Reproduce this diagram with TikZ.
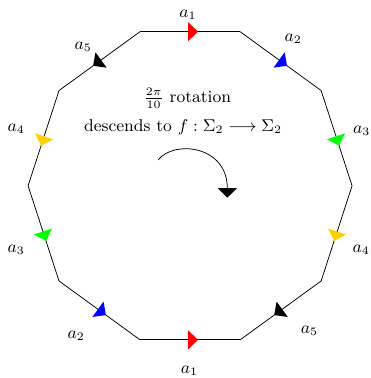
\documentclass[tikz,border=0pt]{standalone}
\usepackage{amsmath}
\usetikzlibrary{arrows.meta,decorations.markings}
\definecolor{tipyellow}{RGB}{255,208,0}

\begin{document}
\begin{tikzpicture}[
  every node/.style={font=\small},
  side/.style={line width=0.4pt},
  midtip/.style={side, postaction={decorate}, decoration={markings,
    mark=at position 0.5 with {\fill[#1] (4.2pt,0) -- (-1pt,5pt) -- (-1pt,-5pt) -- cycle;}}},
  rot/.style={-{Triangle[length=5pt,width=10pt]}}
]
\useasboundingbox (-3.52,-3.56) rectangle (3.35,3.44);

% decagon corners
\foreach \i in {0,...,9}
  \coordinate (v\i) at (\i*36:3);

% sides, opposite sides glued by translation
\draw[midtip=red] (v3) -- (v2);
\draw[midtip=blue] (v2) -- (v1);
\draw[midtip=green] (v1) -- (v0);
\draw[midtip=tipyellow] (v0) -- (v9);
\draw[midtip=black] (v9) -- (v8);
\draw[midtip=red] (v7) -- (v8);
\draw[midtip=blue] (v6) -- (v7);
\draw[midtip=green] (v5) -- (v6);
\draw[midtip=tipyellow] (v4) -- (v5);
\draw[midtip=black] (v3) -- (v4);

\node (a1t) at (-0.04,3.17) {$a_1$};
\node (a2t) at (1.91,2.72) {$a_2$};
\node (a3t) at (3.18,1.02) {$a_3$};
\node (a4t) at (3.17,-1.19) {$a_4$};
\node (a5t) at (2.21,-2.69) {$a_5$};
\node (a1b) at (-0.01,-3.42) {$a_1$};
\node (a2b) at (-2.11,-2.78) {$a_2$};
\node (a3b) at (-3.22,-1.19) {$a_3$};
\node (a4b) at (-3.22,1.05) {$a_4$};
\node (a5b) at (-1.98,2.58) {$a_5$};

\node (rottxt) at (-0.05,1.62) {$\frac{2\pi}{10}$ rotation};
\node (desc) at (-0.13,1.09) {descends to $f:\Sigma_2\longrightarrow\Sigma_2$};

\coordinate (rs) at (-0.59,0.48);
\coordinate (re) at (0.69,-0.22);
\draw[rot] (rs) .. controls (-0.3,0.85) and (0.69,0.75) .. (re);
\end{tikzpicture}
\end{document}
